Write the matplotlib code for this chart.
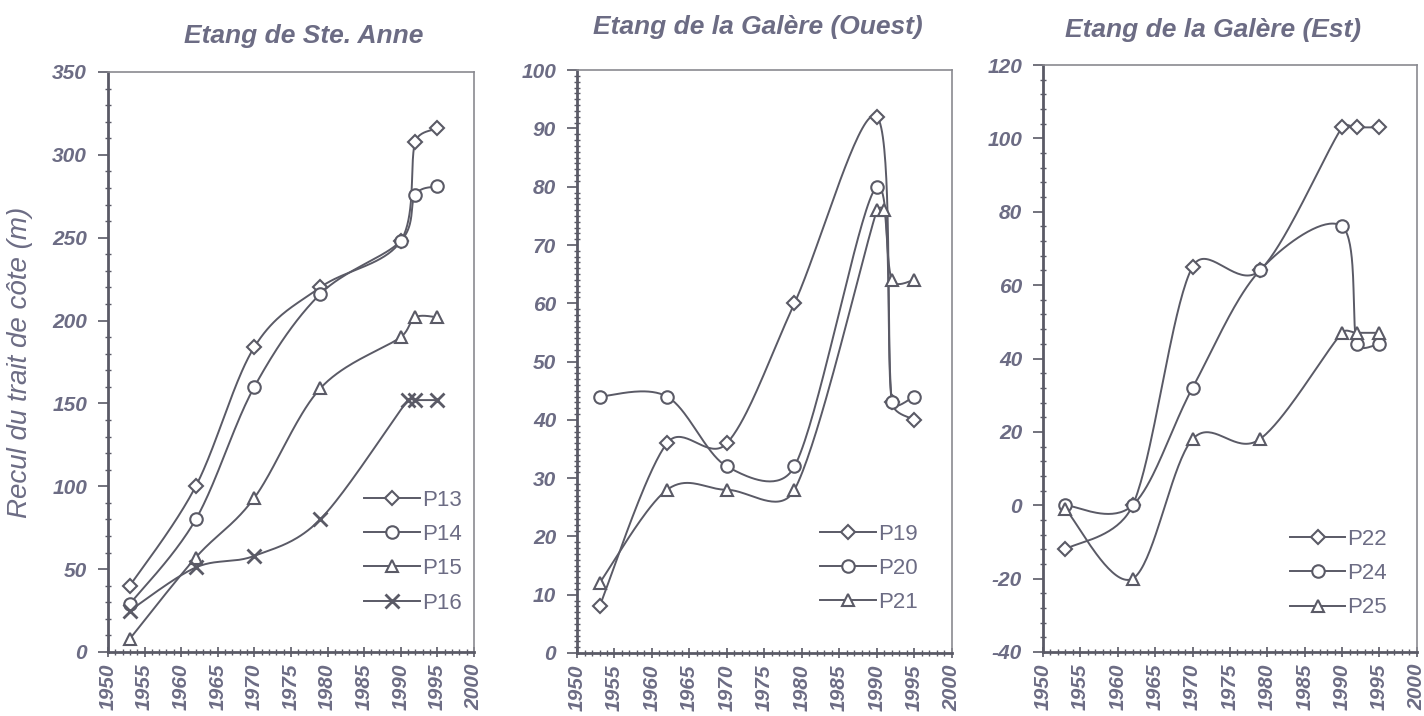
import numpy as np
import matplotlib.pyplot as plt
from matplotlib.ticker import MultipleLocator

# ---- data ----
years_13 = [1953, 1962, 1970, 1979, 1990, 1992, 1995]
p13 = [40, 100, 184, 220, 248, 308, 316]
p14 = [29, 80, 160, 216, 248, 276, 281]
p15 = [8, 57, 93, 159, 190, 202, 202]
years_16 = [1953, 1962, 1970, 1979, 1991, 1992, 1995]
p16 = [25, 51, 58, 80, 152, 152, 152]

years_19 = [1953, 1962, 1970, 1979, 1990, 1992, 1995]
p19 = [8, 36, 36, 60, 92, 43, 40]
p20 = [44, 44, 32, 32, 80, 43, 44]
years_21 = [1953, 1962, 1970, 1979, 1990, 1991, 1992, 1995]
p21 = [12, 28, 28, 28, 76, 76, 64, 64]

years_22 = [1953, 1962, 1970, 1979, 1990, 1992, 1995]
p22 = [-12, 0, 65, 64, 103, 103, 103]
p24 = [0, 0, 32, 64, 76, 44, 44]
p25 = [-1, -20, 18, 18, 47, 47, 47]

titles = ["Etang de Ste. Anne", "Etang de la Galère (Ouest)", "Etang de la Galère (Est)"]
ylabel = "Recul du trait de côte (m)"

txt_col = "#6c6c84"
line_col = "#5a5a66"
plt.rcParams['font.family'] = ['Liberation Sans', 'DejaVu Sans']
plt.rcParams['axes.unicode_minus'] = False


def clamp(d, seg, frac=0.45):
    # keep the handle shorter than a part of the segment (avoids loops)
    nd = np.hypot(*d)
    lim = frac * np.hypot(*seg)
    if nd > lim and nd > 0:
        d = d * lim / nd
    return d


def smooth(x, y, xr, yr, w, h, n=40):
    # Excel-like smoothed line: Catmull-Rom bezier computed in screen space
    px = (np.asarray(x, float) - xr[0]) / (xr[1] - xr[0]) * w
    py = (np.asarray(y, float) - yr[0]) / (yr[1] - yr[0]) * h
    P = np.column_stack([px, py])
    P = np.vstack([P[0], P, P[-1]])
    out = []
    t = np.linspace(0, 1, n)[:, None]
    for i in range(1, len(P) - 2):
        p0, p1, p2, p3 = P[i - 1], P[i], P[i + 1], P[i + 2]
        c1 = p1 + clamp((p2 - p0) / 6.0, p2 - p1)
        c2 = p2 - clamp((p3 - p1) / 6.0, p2 - p1)
        seg = ((1 - t) ** 3) * p1 + 3 * ((1 - t) ** 2) * t * c1 + 3 * (1 - t) * t ** 2 * c2 + t ** 3 * p2
        out.append(seg)
    S = np.vstack(out)
    sx = S[:, 0] / w * (xr[1] - xr[0]) + xr[0]
    sy = S[:, 1] / h * (yr[1] - yr[0]) + yr[0]
    return sx, sy


fig = plt.figure(figsize=(14.24, 7.16), dpi=100)

panels = [
    dict(rect=[0.0758, 0.0894, 0.257, 0.8101], ylim=(0, 350), major=50, minor=10,
         series=[(years_13, p13, 'D', 'P13'), (years_13, p14, 'o', 'P14'),
                 (years_13, p15, '^', 'P15'), (years_16, p16, 'x', 'P16')],
         leg=(0.70, 0.28), title_pos=(0.536, 1.062)),
    dict(rect=[0.4052, 0.088, 0.2633, 0.814], ylim=(0, 100), major=10, minor=1,
         series=[(years_19, p19, 'D', 'P19'), (years_19, p20, 'o', 'P20'),
                 (years_21, p21, '^', 'P21')],
         leg=(0.648, 0.222), title_pos=(0.483, 1.074)),
    dict(rect=[0.7324, 0.0894, 0.2626, 0.8198], ylim=(-40, 120), major=20, minor=4,
         series=[(years_22, p22, 'D', 'P22'), (years_22, p24, 'o', 'P24'),
                 (years_22, p25, '^', 'P25')],
         leg=(0.66, 0.21), title_pos=(0.455, 1.06)),
]

for k, pn in enumerate(panels):
    ax = fig.add_axes(pn['rect'])
    xr = (1950, 2000)
    w = pn['rect'][2] * 1424
    h = pn['rect'][3] * 716
    for xs, ys, mk, lab in pn['series']:
        sx, sy = smooth(xs, ys, xr, pn['ylim'], w, h)
        ax.plot(sx, sy, color=line_col, lw=1.4, zorder=2)
        ms = 7 if mk == 'D' else 9
        if mk == 'x':
            ax.plot(xs, ys, ls='none', marker='x', ms=10, mew=2, color=line_col, zorder=3)
        else:
            ax.plot(xs, ys, ls='none', marker=mk, ms=ms, mfc='white', mec=line_col, mew=1.5, zorder=3)
        ax.plot([], [], color=line_col, lw=1.4, marker=mk, ms=(10 if mk == 'x' else ms),
                mfc='white', mec=line_col, mew=(2 if mk == 'x' else 1.5), label=lab)
    ax.set_xlim(*xr)
    ax.set_ylim(*pn['ylim'])
    ax.xaxis.set_major_locator(MultipleLocator(5))
    ax.xaxis.set_minor_locator(MultipleLocator(1))
    ax.yaxis.set_major_locator(MultipleLocator(pn['major']))
    ax.yaxis.set_minor_locator(MultipleLocator(pn['minor']))
    ax.tick_params(axis='both', which='major', direction='out', length=7, width=1.2, color=line_col, pad=8)
    ax.tick_params(axis='both', which='minor', direction='inout', length=4, width=1, color=line_col)
    ax.tick_params(axis='x', which='major', direction='inout', pad=5)
    for lbl in ax.get_yticklabels() + ax.get_xticklabels():
        lbl.set_fontsize(15)
        lbl.set_fontweight('bold')
        lbl.set_fontstyle('italic')
        lbl.set_color(txt_col)
    for lbl in ax.get_xticklabels():
        lbl.set_rotation(90)
    for side in ['top', 'right']:
        ax.spines[side].set_color('#8a8a90')
        ax.spines[side].set_linewidth(1.2)
    for side in ['left', 'bottom']:
        ax.spines[side].set_color(line_col)
        ax.spines[side].set_linewidth(2)
    tx, ty = pn['title_pos']
    ax.text(tx, ty, titles[k], transform=ax.transAxes, ha='center', va='center',
            fontsize=19, fontweight='bold', fontstyle='italic', color=txt_col)
    ax.legend(loc='upper left', bbox_to_anchor=pn['leg'], frameon=False, borderpad=0, borderaxespad=0,
              fontsize=16, handlelength=2.5, handletextpad=0.1, labelspacing=0.6, labelcolor=txt_col)
    if k == 0:
        ax.set_ylabel(ylabel, fontsize=20, fontstyle='italic', color=txt_col, labelpad=14)

fig.savefig("out.png", dpi=100)
